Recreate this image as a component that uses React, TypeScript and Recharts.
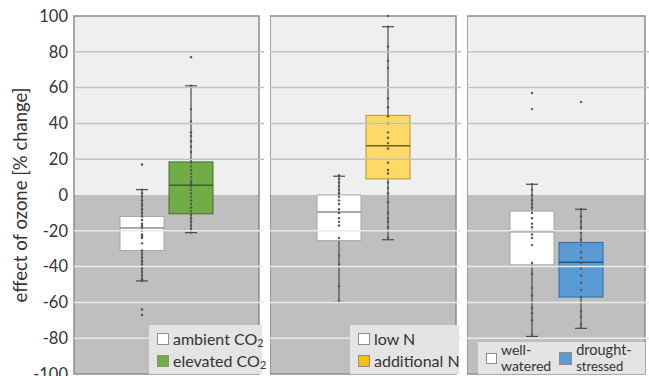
import { ComposedChart, Bar, XAxis, YAxis, ReferenceArea, ReferenceLine } from 'recharts'

const yTicks = [-100, -80, -60, -40, -20, 0, 20, 40, 60, 80, 100]
const gridAbove = [20, 40, 60, 80]
const gridBelow = [-20, -40, -60, -80]

// box summaries: [whisker low, q1, median, q3, whisker high]
const ambientCO2 = [-48, -31, -18.5, -12, 3]
const elevatedCO2 = [-21, -10.5, 5.5, 18.5, 61]
const lowN = [-60, -25.5, -9.5, 0, 10.5]
const additionalN = [-25, 9, 27.5, 44.5, 94]
const wellWatered = [-79, -39, -20.5, -9, 6]
const droughtStressed = [-74.5, -57, -37.5, -26.5, -8]

// individual observations (dots)
const ambientCO2Pts = [17, 3, 1, -1, -3, -5, -6, -8, -10, -12, -14, -16, -17, -18, -20, -22, -23, -24, -27, -31, -33, -35, -37, -39, -41, -43, -45, -47, -48, -64, -67]
const elevatedCO2Pts = [77, 61, 48, 41, 35, 33, 30, 27, 24, 20, 18, 16, 14, 12, 10, 8, 7, 6, 5, 3, 1, -1, -3, -5, -7, -9, -11, -13, -15, -17, -19, -21]
const lowNPts = [11, 9, 7, 5, 3, 1, -1, -3, -5, -8, -10, -13, -15, -17, -24, -34, -39, -51, -59]
const additionalNPts = [100, 94, 83, 75, 71, 54, 49, 44, 40, 35, 32, 29, 26, 18, 14, 12, 7, 4, 1, -4, -10, -13, -15, -18, -24]
const wellWateredPts = [57, 48, 6, 3, 0, -3, -5, -7, -10, -13, -16, -18, -20, -22, -24, -28, -38, -44, -52, -56, -60, -63, -66, -70, -78]
const droughtStressedPts = [52, -8, -12, -15, -18, -21, -25, -28, -32, -35, -38, -41, -45, -49, -53, -57, -60, -65, -68, -72, -74]

const styles = {
  ambient: { fill: '#ffffff', stroke: '#a6a6a6', median: '#8c8c8c' },
  elevated: { fill: '#70ad47', stroke: '#41712a', median: '#3a6325' },
  low: { fill: '#ffffff', stroke: '#a6a6a6', median: '#8c8c8c' },
  additional: { fill: '#ffd966', stroke: '#b8923a', median: '#6b5a2a' },
  well: { fill: '#ffffff', stroke: '#a6a6a6', median: '#8c8c8c' },
  drought: { fill: '#5b9bd5', stroke: '#2f6aa3', median: '#2a5580' },
}

const rows = [
  { panel: 'CO2', a: ambientCO2, aPts: ambientCO2Pts, b: elevatedCO2, bPts: elevatedCO2Pts },
  { panel: 'N', a: lowN, aPts: lowNPts, b: additionalN, bPts: additionalNPts },
  { panel: 'water', a: wellWatered, aPts: wellWateredPts, b: droughtStressed, bPts: droughtStressedPts },
]

function BoxShape(props: any) {
  const { x, y, width, height, box, pts, st } = props
  const lo = box[0]
  const hi = box[4]
  const px = (v: number) => y + ((hi - v) / (hi - lo)) * height
  const cx = x + width / 2
  return (
    <g>
      <line x1={cx} x2={cx} y1={px(hi)} y2={px(lo)} stroke="#4a4a4a" strokeWidth={1.2} />
      <line x1={cx - 6} x2={cx + 6} y1={px(hi)} y2={px(hi)} stroke="#4a4a4a" strokeWidth={1.2} />
      <line x1={cx - 6} x2={cx + 6} y1={px(lo)} y2={px(lo)} stroke="#4a4a4a" strokeWidth={1.2} />
      <rect x={x} y={px(box[3])} width={width} height={px(box[1]) - px(box[3])} fill={st.fill} stroke={st.stroke} strokeWidth={1} />
      <line x1={x} x2={x + width} y1={px(box[2])} y2={px(box[2])} stroke={st.median} strokeWidth={1.5} />
      {pts.map((v: number, i: number) => (
        <circle key={i} cx={cx} cy={px(v)} r={1.2} fill="#555" />
      ))}
    </g>
  )
}

function YLabel(props: any) {
  const vb = props.viewBox
  const cx = vb.x + 20
  const cy = vb.y + vb.height / 2
  return (
    <text x={cx} y={cy} transform={`rotate(-90 ${cx} ${cy})`} textAnchor="middle" dominantBaseline="central"
      fontSize={18.5} fill="#333" fontFamily="Lato">
      effect of ozone [% change]
    </text>
  )
}

function Panel({ row, left, width, axis, sa, sb }: any) {
  return (
    <div style={{ position: 'absolute', left, top: 0 }}>
      <ComposedChart width={width} height={376} data={[row]} barGap={5}
        margin={{ top: 16, right: 0, bottom: 2, left: 0 }}>
        <XAxis dataKey="panel" hide padding={{ left: 0, right: 5 }} />
        <YAxis domain={[-100, 100]} ticks={yTicks} hide={!axis} width={74} axisLine={false} tickLine={false}
          tickSize={4} tickMargin={2} interval={0} tick={{ fontSize: 16.5, fill: '#333', fontFamily: 'Lato' }}
          label={axis ? { content: YLabel } : undefined} />
        <ReferenceArea y1={0} y2={100} fill="#efefef" fillOpacity={1} stroke="none" />
        <ReferenceArea y1={-100} y2={0} fill="#bfbfbf" fillOpacity={1} stroke="none" />
        {gridAbove.map((v) => <ReferenceLine key={v} y={v} stroke="#c2c2c2" strokeWidth={1.5} />)}
        {gridBelow.map((v) => <ReferenceLine key={v} y={v} stroke="#e9e9e9" strokeWidth={1.5} />)}
        <Bar dataKey={(d: any) => [d.a[0], d.a[4]]} barSize={44} isAnimationActive={false}
          shape={(p: any) => <BoxShape {...p} box={p.payload.a} pts={p.payload.aPts} st={sa} />} />
        <Bar dataKey={(d: any) => [d.b[0], d.b[4]]} barSize={44} isAnimationActive={false}
          shape={(p: any) => <BoxShape {...p} box={p.payload.b} pts={p.payload.bPts} st={sb} />} />
        <ReferenceArea y1={-100} y2={100} fill="none" fillOpacity={0} stroke="#8c8c8c" strokeWidth={1.5} />
      </ComposedChart>
    </div>
  )
}

const swatch = (color: string, size = 12) => (
  <span style={{ display: 'inline-block', flex: 'none', width: size, height: size, background: color, border: '1px solid #8c8c8c', boxSizing: 'border-box', marginRight: 4 }} />
)

const sub2 = <span style={{ fontSize: 11, position: 'relative', top: 4 }}>2</span>

export default function App() {
  const legendText = { fontSize: 16, color: '#333', lineHeight: '22px', display: 'flex', alignItems: 'center', whiteSpace: 'nowrap' } as const
  const legendBox = { position: 'absolute', background: '#e4e4e4', boxSizing: 'border-box' } as const
  const line = (text: string, size: number) => (
    <div style={{ fontSize: size, lineHeight: '16px', height: 16, whiteSpace: 'nowrap' }}>{text}</div>
  )
  return (
    <div style={{ position: 'absolute', left: 0, top: 0, width: 649, height: 376, overflow: 'hidden', background: '#fff', fontFamily: 'Lato' }}>
      <Panel row={rows[0]} left={0} width={264} axis sa={styles.ambient} sb={styles.elevated} />
      <Panel row={rows[1]} left={270} width={191} sa={styles.low} sb={styles.additional} />
      <Panel row={rows[2]} left={467} width={183} sa={styles.well} sb={styles.drought} />

      <div style={{ ...legendBox, left: 149, top: 325, width: 113, height: 49, padding: '3px 0 0 8px' }}>
        <div style={legendText}>{swatch('#ffffff')}ambient CO{sub2}</div>
        <div style={legendText}>{swatch('#70ad47')}elevated CO{sub2}</div>
      </div>
      <div style={{ ...legendBox, left: 350, top: 325, width: 109, height: 49, padding: '3px 0 0 8px' }}>
        <div style={legendText}>{swatch('#ffffff')}low N</div>
        <div style={legendText}>{swatch('#ffc000')}additional N</div>
      </div>
      <div style={{ ...legendBox, left: 478, top: 342, width: 167, height: 32, padding: '0 0 0 8px', display: 'flex', alignItems: 'center', color: '#333' }}>
        {swatch('#ffffff', 11)}
        <div style={{ marginRight: 8 }}>{line('well-', 14)}{line('watered', 14)}</div>
        {swatch('#5b9bd5', 13)}
        <div>{line('drought-', 14.5)}{line('stressed', 13)}</div>
      </div>
    </div>
  )
}
